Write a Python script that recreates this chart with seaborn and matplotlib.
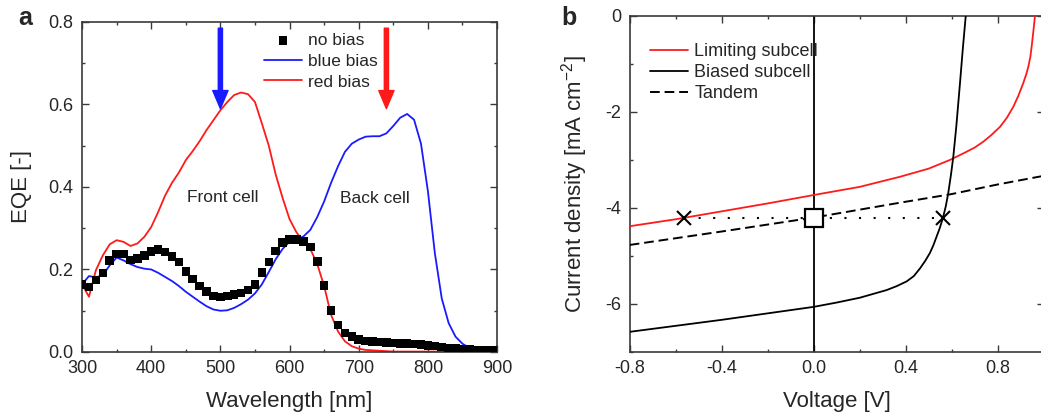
import numpy as np
import pandas as pd
import seaborn as sns
import matplotlib.pyplot as plt
from matplotlib.ticker import MultipleLocator

# ---- panel a: EQE spectra ----
wavelength = list(range(300, 901, 10))

no_bias = [0.163, 0.158, 0.175, 0.192, 0.222, 0.238, 0.238, 0.223, 0.226, 0.234,
           0.244, 0.248, 0.242, 0.231, 0.218, 0.195, 0.177, 0.160, 0.147, 0.136,
           0.133, 0.136, 0.140, 0.143, 0.150, 0.164, 0.193, 0.218, 0.245, 0.265,
           0.273, 0.273, 0.268, 0.254, 0.219, 0.161, 0.101, 0.065, 0.046, 0.038,
           0.030, 0.027, 0.025, 0.024, 0.023, 0.022, 0.021, 0.020, 0.019, 0.018,
           0.016, 0.014, 0.012, 0.010, 0.008, 0.007, 0.006, 0.005, 0.004, 0.003,
           0.003]

blue_bias = [0.164, 0.184, 0.181, 0.186, 0.210, 0.229, 0.222, 0.213, 0.206, 0.202,
             0.200, 0.192, 0.182, 0.172, 0.160, 0.146, 0.134, 0.122, 0.111, 0.103,
             0.100, 0.101, 0.107, 0.116, 0.127, 0.142, 0.164, 0.194, 0.225, 0.250,
             0.267, 0.273, 0.280, 0.296, 0.327, 0.365, 0.410, 0.450, 0.485, 0.505,
             0.515, 0.522, 0.523, 0.523, 0.530, 0.548, 0.568, 0.577, 0.563, 0.505,
             0.390, 0.240, 0.130, 0.070, 0.037, 0.020, 0.010, 0.006, 0.004, 0.003,
             0.002]

red_bias = [0.164, 0.134, 0.198, 0.234, 0.261, 0.271, 0.267, 0.257, 0.263, 0.279,
            0.303, 0.339, 0.379, 0.410, 0.435, 0.465, 0.487, 0.511, 0.538, 0.562,
            0.586, 0.606, 0.623, 0.629, 0.625, 0.606, 0.554, 0.500, 0.430, 0.373,
            0.322, 0.290, 0.268, 0.250, 0.213, 0.160, 0.090, 0.050, 0.026, 0.014,
            0.008, 0.005, 0.004, 0.003, 0.002, 0.001, 0.001, 0.001, 0.001, 0.001,
            0.001, 0.001, 0.001, 0.000, 0.000, 0.000, 0.000, 0.000, 0.000, 0.000,
            0.000]

# ---- panel b: J-V curves ----
v_limiting = [-0.8, -0.6, -0.4, -0.2, 0.0, 0.2, 0.375, 0.5, 0.592, 0.66, 0.7,
              0.737, 0.77, 0.81, 0.84, 0.868, 0.89, 0.911, 0.925, 0.933, 0.942,
              0.948, 0.955, 0.962]
j_limiting = [-4.38, -4.235, -4.07, -3.905, -3.73, -3.56, -3.35, -3.18, -3.0, -2.84,
              -2.74, -2.62, -2.49, -2.31, -2.12, -1.89, -1.66, -1.40, -1.20, -1.06,
              -0.85, -0.62, -0.32, 0.0]

v_biased = [-0.8, -0.4, 0.0, 0.1, 0.2, 0.317, 0.36, 0.404, 0.435, 0.462, 0.485,
            0.505, 0.52, 0.534, 0.548, 0.561, 0.574, 0.585, 0.597, 0.607, 0.62,
            0.636, 0.648, 0.661]
j_biased = [-6.58, -6.33, -6.06, -5.97, -5.87, -5.71, -5.63, -5.53, -5.42, -5.26,
            -5.10, -4.94, -4.78, -4.60, -4.42, -4.22, -3.97, -3.69, -3.30, -2.93,
            -2.30, -1.40, -0.70, 0.0]

v_tandem = [-0.8, -0.4, 0.0, 0.375, 0.6, 0.8, 1.0]
j_tandem = [-4.77, -4.49, -4.2, -3.89, -3.71, -3.51, -3.33]

v_cross = [-0.563, 0.563]
j_op = -4.21

sns.set_style("ticks")
plt.rcParams['font.family'] = ['Liberation Sans', 'DejaVu Sans']
plt.rcParams['axes.unicode_minus'] = False
plt.rcParams['mathtext.fontset'] = 'custom'
plt.rcParams['mathtext.rm'] = 'Liberation Sans'
plt.rcParams['mathtext.default'] = 'regular'

RED = '#ff1a1a'
BLUE = '#1a1aff'
SPINE = '#3a3a3a'

fig = plt.figure(figsize=(10.41, 4.17), dpi=100)
ax1 = fig.add_axes([0.0788, 0.1559, 0.3987, 0.7914])
ax2 = fig.add_axes([0.6049, 0.1559, 0.3977, 0.8058])

df_a = pd.DataFrame({"wl": wavelength, "none": no_bias,
                     "blue": blue_bias, "red": red_bias})

sns.scatterplot(data=df_a, x="wl", y="none", ax=ax1, marker='s', s=38,
                color='black', edgecolor='none', label='no bias', zorder=3)
sns.lineplot(data=df_a, x="wl", y="blue", ax=ax1, color=BLUE, lw=1.3,
             label='blue bias', zorder=2)
sns.lineplot(data=df_a, x="wl", y="red", ax=ax1, color=RED, lw=1.3,
             label='red bias', zorder=2)

for x0, c in [(500, BLUE), (740, RED)]:
    ax1.annotate('', xy=(x0, 0.59), xytext=(x0, 0.785),
                 arrowprops=dict(arrowstyle='simple,head_length=1.3,head_width=1.1,tail_width=0.3',
                                 mutation_scale=10, color=c, shrinkA=0, shrinkB=0))

ax1.text(503, 0.375, 'Front cell', fontsize=12.5, ha='center', va='center')
ax1.text(723, 0.372, 'Back cell', fontsize=12.5, ha='center', va='center')

ax1.set_xlim(300, 900)
ax1.set_ylim(0, 0.8)
ax1.xaxis.set_major_locator(MultipleLocator(100))
ax1.xaxis.set_minor_locator(MultipleLocator(50))
ax1.yaxis.set_major_locator(MultipleLocator(0.2))
ax1.yaxis.set_minor_locator(MultipleLocator(0.1))
ax1.set_xlabel('Wavelength [nm]', fontsize=16, labelpad=10)
ax1.set_ylabel('EQE [-]', fontsize=16)
ax1.yaxis.set_label_coords(-0.12, 0.5)
ax1.legend(loc='upper left', bbox_to_anchor=(0.417, 0.994), frameon=False,
           fontsize=12.5, borderpad=0, handlelength=2.2, handletextpad=0.35,
           labelspacing=0.33)

# panel b
df_lim = pd.DataFrame({"v": v_limiting, "j": j_limiting})
df_bia = pd.DataFrame({"v": v_biased, "j": j_biased})
df_tan = pd.DataFrame({"v": v_tandem, "j": j_tandem})

ax2.axvline(0, color='black', lw=1.3, zorder=1)
sns.lineplot(data=df_lim, x="v", y="j", ax=ax2, color=RED, lw=1.3,
             label='Limiting subcell', zorder=3)
sns.lineplot(data=df_bia, x="v", y="j", ax=ax2, color='black', lw=1.3,
             label='Biased subcell', zorder=3)
sns.lineplot(data=df_tan, x="v", y="j", ax=ax2, color='black', lw=1.4,
             linestyle=(0, (5, 2.5)), label='Tandem', zorder=3)
ax2.plot(v_cross, [j_op, j_op], color='black', lw=1.5,
         linestyle=(0, (1, 6)), zorder=2)
ax2.plot(v_cross, [j_op, j_op], linestyle='none', marker='x', ms=10,
         mew=1.5, color='black', zorder=4)
ax2.plot([0], [j_op], linestyle='none', marker='s', ms=12.5, mew=1.6,
         mfc='white', mec='black', zorder=5)

ax2.set_xlim(-0.8, 1.0)
ax2.set_ylim(-7, 0)
ax2.xaxis.set_major_locator(MultipleLocator(0.4))
ax2.xaxis.set_minor_locator(MultipleLocator(0.2))
ax2.yaxis.set_major_locator(MultipleLocator(2))
ax2.yaxis.set_minor_locator(MultipleLocator(1))
ax2.set_xlabel('Voltage [V]', fontsize=16, labelpad=10)
ax2.set_ylabel(r'Current density [mA cm$^{-2}$]', fontsize=16)
ax2.yaxis.set_label_coords(-0.097, 0.5)
ax2.legend(loc='upper left', bbox_to_anchor=(0.028, 0.945), frameon=False,
           fontsize=13, borderpad=0, handlelength=2.1, handletextpad=0.33,
           labelspacing=0.22)

for ax in (ax1, ax2):
    for sp in ax.spines.values():
        sp.set_visible(True)
        sp.set_color(SPINE)
        sp.set_linewidth(1.2)
    ax.tick_params(which='both', direction='in', top=True, right=True,
                   color=SPINE, width=1.0, labelsize=13, pad=6)
    ax.tick_params(which='major', length=5)
    ax.tick_params(which='minor', length=2.5)

fig.text(0.024, 0.94, 'a', fontsize=18, fontweight='bold', ha='center', va='baseline')
fig.text(0.547, 0.94, 'b', fontsize=18, fontweight='bold', ha='center', va='baseline')

fig.savefig('out.png', dpi=100)
